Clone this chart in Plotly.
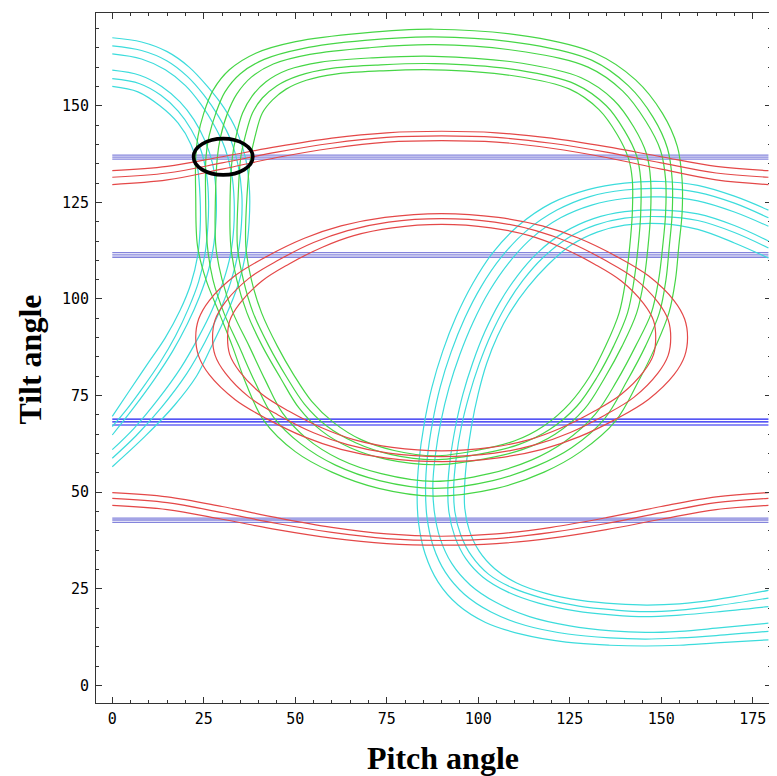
import plotly.graph_objects as go

# ---------------- axes ----------------
X_TICKS = [0, 25, 50, 75, 100, 125, 150, 175]
Y_TICKS = [0, 25, 50, 75, 100, 125, 150]
X_RANGE = [-4.45, 180.0]
Y_RANGE = [-4.55, 174.0]

# ---------------- blue horizontal lines ----------------
BLUE_X = [0, 179.3]
BLUE_BAND_1 = [137.2, 136.7, 136.2]
BLUE_BAND_2 = [112.0, 111.4, 110.8]
BLUE_BAND_3 = [68.9, 68.2, 67.4]
BLUE_BAND_4 = [43.3, 42.8, 42.2]

# ---------------- red upper / lower waves ----------------
RED_X = [0, 15, 30, 45, 60, 75, 90, 105, 120, 135, 150, 165, 179.3]
RED_UP_1 = [133.2, 134.3, 136.8, 139.4, 141.6, 143.0, 143.4, 143.0, 141.6, 139.4, 136.8, 134.3, 133.2]
RED_UP_2 = [131.5, 132.6, 135.2, 138.0, 140.3, 141.8, 142.2, 141.8, 140.3, 138.0, 135.2, 132.6, 131.5]
RED_UP_3 = [129.6, 130.8, 133.6, 136.6, 139.0, 140.6, 141.0, 140.6, 139.0, 136.6, 133.6, 130.8, 129.6]
RED_LOW_1 = [49.9, 48.8, 46.3, 43.4, 40.9, 39.2, 38.6, 39.2, 40.9, 43.4, 46.3, 48.8, 49.9]
RED_LOW_2 = [48.4, 47.3, 44.7, 41.9, 39.6, 38.0, 37.5, 38.0, 39.6, 41.9, 44.7, 47.3, 48.4]
RED_LOW_3 = [46.6, 45.5, 43.0, 40.3, 38.1, 36.7, 36.3, 36.7, 38.1, 40.3, 43.0, 45.5, 46.6]

# ---------------- red loops (x, y) ----------------
RED_LOOP_1 = [(90, 122.1), (105.5, 121.1), (117.5, 118.9), (127.5, 115.7), (138, 110.9),
              (146.5, 106), (153.5, 99.6), (156.4, 94.8), (157.2, 90), (156.4, 85.2),
              (153.5, 80.4), (146.5, 74), (138, 69.1), (127.5, 64.3), (117.5, 61.1),
              (105.5, 58.9), (90, 57.9), (74.5, 58.9), (62.5, 61.1), (52.5, 64.3), (42, 69.1),
              (33.5, 74), (26.5, 80.4), (23.6, 85.2), (22.8, 90), (23.6, 94.8), (26.5, 99.6),
              (33.5, 106), (42, 110.9), (52.5, 115.7), (62.5, 118.9), (74.5, 121.1), (90, 122.1)]
RED_LOOP_2 = [(90, 120.8), (104.5, 119.9), (115.7, 117.7), (125, 114.6), (134.7, 110.0),
              (142.6, 105.4), (149.1, 99.2), (151.9, 94.6), (152.6, 90), (151.9, 85.4),
              (149.1, 80.8), (142.6, 74.6), (134.7, 70.0), (125, 65.4), (115.7, 62.3),
              (104.5, 60.1), (90, 59.2), (75.5, 60.1), (64.3, 62.3), (55, 65.4), (45.3, 70.0),
              (37.4, 74.6), (30.9, 80.8), (28.1, 85.4), (27.4, 90), (28.1, 94.6), (30.9, 99.2),
              (37.4, 105.4), (45.3, 110), (55, 114.6), (64.3, 117.7), (75.5, 119.9), (90, 120.8)]
RED_LOOP_3 = [(90, 119.3), (103.5, 118.4), (114, 116.4), (122.6, 113.4), (131.8, 109.0),
              (139.1, 104.65), (145.2, 98.8), (147.9, 94.4), (148.5, 90), (147.9, 85.6),
              (145.2, 81.2), (139.1, 75.35), (131.8, 71.0), (122.6, 66.6), (114, 63.6),
              (103.5, 61.6), (90, 60.7), (76.5, 61.6), (66, 63.6), (57.4, 66.6), (48.2, 71.0),
              (40.9, 75.35), (34.8, 81.2), (32.1, 85.6), (31.5, 90), (32.1, 94.4), (34.8, 98.8),
              (40.9, 104.65), (48.2, 109.0), (57.4, 113.4), (66, 116.4), (76.5, 118.4), (90, 119.3)]

# ---------------- green loops (x, y) ----------------
GREEN_1 = [(88, 169.8), (114, 167.9), (132, 163.6), (143, 156.7), (150.3, 148.1), (154.4, 139.5),
           (155.7, 130.9), (155.7, 122.2), (154.8, 113.6), (153.9, 105), (152.1, 96.4), (148.5, 87.8),
           (143.5, 78.2), (137.5, 68.4), (128, 60.5), (118, 55.2), (105, 51.0), (88, 49.0),
           (72.8, 51.0), (60, 55.2), (50, 60.5), (41.5, 68.4), (36.5, 78.2), (32.8, 87.8),
           (29.2, 96.4), (25.6, 105), (23.3, 113.6), (22.8, 126.6), (22.8, 136.6), (23.4, 142),
           (25.0, 148.1), (27.6, 154.1), (32, 159.3), (39.2, 163.6), (50.1, 166.6), (68.3, 168.8),
           (88, 169.8)]
GREEN_2 = [(88, 167.8), (114, 165.9), (131, 161.8), (141, 155.2), (147.8, 147), (151.7, 139),
           (153, 130.9), (153, 122.2), (152.2, 113.6), (151.3, 105), (149.5, 96.4), (145.7, 87.8),
           (140.5, 78.5), (134.5, 69), (125.5, 61.5), (116, 56.8), (104, 53), (88, 51.0),
           (73, 53), (61, 57), (51.5, 62.5), (44, 69.5), (39, 78.5), (34.6, 87.8),
           (30.5, 96.4), (27.5, 105), (26, 113.6), (25.5, 126.6), (25.6, 136.6), (26.4, 142),
           (28.3, 148.1), (30.8, 153.6), (35, 158.3), (41.5, 162), (52, 164.8), (69, 166.9),
           (88, 167.8)]
GREEN_3 = [(88, 165.8), (113, 163.9), (130, 160), (139.5, 153.8), (145.8, 146), (149.8, 138.5),
           (151.2, 130.9), (151.2, 122.2), (150.4, 113.6), (149.3, 105), (147.3, 96.4), (143.0, 87.8),
           (138, 79), (132, 70.2), (123.5, 63), (114.5, 58.3), (103, 54.8), (88, 52.8),
           (73.5, 54.8), (62, 58.6), (53, 64), (46.5, 70.5), (41.8, 79), (37.4, 87.8),
           (33, 96.4), (30, 105), (28.3, 113.6), (28.2, 126.6), (28.7, 136.6), (29.6, 142),
           (31.5, 148.1), (34, 153), (38, 157.4), (44, 160.8), (54, 163.3), (70, 165),
           (88, 165.8)]
GREEN_4 = [(88, 162.8), (112, 161), (128, 157.3), (137, 151.5), (142.5, 144.5), (146, 137.5),
           (147.1, 130.9), (147.1, 122.2), (146.4, 113.6), (145.3, 105), (143.3, 96.4), (139.3, 87.8),
           (134.5, 79.5), (129, 71.5), (121, 65), (112, 61), (101, 58.5), (88, 57.1),
           (75, 58.5), (65, 61.5), (57, 66), (51, 71.8), (46, 79.5), (41.0, 87.8),
           (36.8, 96.4), (34, 105), (32.4, 113.6), (32.2, 126.6), (32.8, 136.6), (33.8, 142),
           (35.6, 148.1), (38.2, 152.5), (42, 156.2), (48, 159.3), (57, 161.3), (71, 162.4),
           (88, 162.8)]
GREEN_5 = [(88, 160.9), (111, 159.2), (126.5, 155.6), (135, 150), (140, 143.5), (143.3, 137),
           (144.4, 130.9), (144.4, 122.2), (143.7, 113.6), (142.6, 105), (140.8, 96.4), (137.0, 87.8),
           (132.5, 79.8), (127, 72.3), (119.5, 66.2), (111, 62.3), (100, 59.8), (88, 58.4),
           (76, 59.8), (66.5, 62.8), (58.5, 67.2), (52.5, 72.8), (47.5, 80), (42.8, 87.8),
           (38.5, 96.4), (35.8, 105), (34.2, 113.6), (34.4, 126.6), (35.1, 136.6), (36.3, 142),
           (38.3, 148.1), (41, 152), (45, 155.2), (51, 157.8), (59.5, 159.6), (72, 160.5),
           (88, 160.9)]
GREEN_6 = [(88, 159.3), (110, 157.7), (125, 154.3), (133, 149), (138, 142.5), (141, 136.5),
           (142.1, 130.9), (142.1, 122.2), (141.4, 113.6), (140.3, 105), (138.5, 96.4), (134.8, 87.8),
           (130.5, 80), (125, 73), (118, 67.2), (110, 63.3), (99.5, 60.8), (88, 59.4),
           (77, 60.8), (68, 63.6), (60.5, 68), (54.5, 73.5), (49.5, 80.5), (45.1, 87.8),
           (40.8, 96.4), (38, 105), (36.5, 113.6), (36.8, 126.6), (37.8, 136.6), (39, 142),
           (41, 148.1), (43.8, 151.5), (47.5, 154.3), (53, 156.6), (61, 158.2), (73, 159),
           (88, 159.3)]

# ---------------- cyan, upper-left arcs (x, y) ----------------
CYAN_UL_1 = [(0, 167.6), (8, 166.5), (15, 164), (21, 160), (26, 155), (30.5, 149.5), (34, 143.5),
             (36.4, 136.5), (37.5, 128), (37.4, 120), (36.5, 112), (34.5, 104), (31, 95.5),
             (27, 87.5), (23, 80), (17, 72.5), (9, 64.5), (0, 56.6)]
CYAN_UL_2 = [(0, 165.5), (8, 164.3), (15, 161.6), (20.5, 157.6), (25, 152.8), (29, 147.3),
             (32.3, 141.3), (34.4, 134.5), (35.4, 127), (35.3, 119.5), (34.4, 112), (32.4, 104.5),
             (29.2, 96.5), (25.3, 88.8), (20.3, 80.6), (13.5, 72), (6.5, 64.6), (0, 58.8)]
CYAN_UL_3 = [(0, 163.4), (8, 162.1), (14.5, 159.3), (20, 155.2), (24.2, 150.4), (27.8, 145),
             (30.8, 139), (32.6, 132.5), (33.3, 125.5), (33.2, 118.5), (32.3, 111.5), (30.3, 104.5),
             (27.3, 97.2), (23.5, 90), (18.8, 82.3), (12.5, 74), (6, 66.6), (0, 61.0)]
CYAN_UL_4 = [(0, 159.2), (7.5, 157.9), (13.5, 155), (18.5, 151), (22.3, 146.4), (25.3, 141),
             (27.4, 135), (28.3, 128.5), (28.4, 121.5), (27.8, 114.5), (26.3, 107.5), (23.8, 100.5),
             (20.5, 93.5), (16.5, 86.5), (11.5, 79.2), (5.8, 71.8), (0, 64.8)]
CYAN_UL_5 = [(0, 157.0), (7.5, 155.7), (13.3, 152.7), (18, 148.6), (21.6, 143.8), (24.3, 138.3),
             (25.8, 132), (26.3, 125.5), (26.1, 118.5), (25.3, 111.5), (23.6, 104.5), (20.8, 97.5),
             (17.3, 90.5), (13, 83.5), (8.3, 77), (4, 71.5), (0, 67.0)]
CYAN_UL_6 = [(0, 155.0), (7, 153.6), (13, 150), (18, 145.5), (21.5, 140), (23.3, 134), (24, 126),
             (24, 118), (23.3, 111), (21.5, 104), (18.5, 97), (14.5, 90), (9.5, 83), (4.5, 76),
             (0, 69.6)]

# ---------------- cyan, lower-right arcs (x, y) ----------------
CYAN_LR_1 = [(179.3, 123.0), (170, 126.6), (160, 129.4), (150, 130.4), (140, 130), (130, 128.3),
             (120, 124.8), (111, 119), (104, 112), (98.5, 104), (94, 95.5), (90.3, 86.5),
             (87.3, 77), (85.2, 67.5), (83.8, 58), (83.3, 50), (83.7, 42), (85.5, 34), (89, 26.8),
             (94.5, 20.8), (102, 16.3), (112, 13.2), (124, 11.2), (136, 10.4), (145.7, 10.2),
             (155, 10.4), (165, 11), (179.3, 11.8)]
CYAN_LR_2 = [(179.3, 121.0), (170, 124.8), (160, 127.6), (150, 128.6), (140, 128.2), (130.5, 126.5),
             (121.5, 123), (113, 117.5), (106.3, 110.8), (100.8, 103.2), (96.3, 95), (92.6, 86.3),
             (89.6, 77.2), (87.5, 68), (86.1, 59), (85.6, 51), (86, 43.5), (87.7, 36), (91, 29.3),
             (96.2, 23.6), (103.5, 19), (113, 15.5), (124.5, 13.3), (136, 12.3), (145.7, 12.0),
             (155, 12.3), (165, 12.9), (179.3, 14.0)]
CYAN_LR_3 = [(179.3, 118.8), (170, 122.5), (160, 125.4), (150, 126.4), (140, 126), (131, 124.3),
             (122.5, 121), (114.7, 115.8), (108.3, 109.3), (103, 102), (98.6, 94), (95, 85.7),
             (92, 77), (89.8, 68.3), (88.3, 59.7), (87.6, 52), (88, 45), (89.6, 38), (92.8, 31.5),
             (97.8, 26), (104.8, 21.5), (114, 17.8), (125, 15.4), (136.5, 14.1), (145.7, 13.7),
             (155, 14), (165, 14.8), (179.3, 16.1)]
CYAN_LR_4 = [(179.3, 115.0), (170, 119), (160, 122), (150, 123), (140, 122.6), (131.5, 120.8),
             (123.5, 117.3), (116.5, 112.2), (110.7, 106), (105.8, 99), (101.8, 91.5), (98.5, 83.5),
             (95.8, 75.3), (93.8, 67), (92.4, 59), (91.7, 51.5), (92, 44.8), (93.6, 38.5),
             (96.6, 32.8), (101.3, 28), (108, 24.2), (116.5, 21.3), (126.5, 19.3), (137, 18.2),
             (145.7, 17.8), (155, 18.2), (165, 19), (179.3, 20.4)]
CYAN_LR_5 = [(179.3, 113.2), (170, 117.2), (160, 120.3), (150, 121.3), (140, 120.9), (132, 119.1),
             (124.5, 115.8), (117.8, 110.8), (112.2, 104.8), (107.4, 98), (103.5, 90.8), (100.2, 83),
             (97.5, 75), (95.4, 67), (94, 59), (93.3, 51.6), (93.6, 45), (95.2, 39), (98.2, 33.5),
             (102.8, 28.8), (109.2, 25.3), (117.5, 22.6), (127.5, 20.5), (137.5, 19.5),
             (145.7, 19.1), (155, 19.5), (165, 20.6), (179.3, 22.6)]
CYAN_LR_6 = [(179.3, 110.6), (170, 114.5), (160, 118), (150, 119.5), (140, 119.1), (132.5, 117.3),
             (125.5, 114), (119, 108.8), (113.5, 103), (109, 97), (105.3, 90.5), (102.3, 83.3),
             (100, 75.5), (98.2, 67.3), (97, 59.5), (96.3, 52), (96.3, 46), (97.5, 40.3),
             (100.2, 34.8), (104.5, 30.2), (110.5, 26.5), (118.5, 23.8), (128, 22), (138, 21.1),
             (146, 20.8), (155, 21.1), (165, 22.2), (179.3, 24.6)]

# ---------------- highlight ellipse ----------------
ELLIPSE_CENTER = (30.3, 136.8)
ELLIPSE_RADII = (8.1, 4.7)

# ---------------- styles ----------------
CYAN = "#3cdcdc"
GREEN = "#46d646"
RED = "#e44848"
BLUE_LIGHT = "#8484dc"
BLUE_DARK = "#1c1cf0"

fig = go.Figure()


def add_curve(pts, color, width=1.2):
    fig.add_trace(go.Scatter(
        x=[p[0] for p in pts], y=[p[1] for p in pts], mode="lines",
        line=dict(color=color, width=width, shape="spline", smoothing=1.0),
        hoverinfo="skip", showlegend=False))


def add_wave(xs, ys, color, width=1.2):
    fig.add_trace(go.Scatter(
        x=xs, y=ys, mode="lines",
        line=dict(color=color, width=width, shape="spline", smoothing=1.0),
        hoverinfo="skip", showlegend=False))


for band, col, w in [(BLUE_BAND_1, BLUE_LIGHT, 1.3), (BLUE_BAND_2, BLUE_LIGHT, 1.3),
                     (BLUE_BAND_3, BLUE_DARK, 1.1), (BLUE_BAND_4, BLUE_LIGHT, 1.3)]:
    for v in band:
        fig.add_trace(go.Scatter(x=BLUE_X, y=[v, v], mode="lines",
                                 line=dict(color=col, width=w),
                                 hoverinfo="skip", showlegend=False))

for c in [CYAN_UL_1, CYAN_UL_2, CYAN_UL_3, CYAN_UL_4, CYAN_UL_5, CYAN_UL_6,
          CYAN_LR_1, CYAN_LR_2, CYAN_LR_3, CYAN_LR_4, CYAN_LR_5, CYAN_LR_6]:
    add_curve(c, CYAN)

for g in [GREEN_1, GREEN_2, GREEN_3, GREEN_4, GREEN_5, GREEN_6]:
    add_curve(g, GREEN)

for r in [RED_LOOP_1, RED_LOOP_2, RED_LOOP_3]:
    add_curve(r, RED)

for ys in [RED_UP_1, RED_UP_2, RED_UP_3, RED_LOW_1, RED_LOW_2, RED_LOW_3]:
    add_wave(RED_X, ys, RED)

cx, cy = ELLIPSE_CENTER
rx, ry = ELLIPSE_RADII
fig.add_shape(type="circle", xref="x", yref="y",
              x0=cx - rx, x1=cx + rx, y0=cy - ry, y1=cy + ry,
              line=dict(color="black", width=3.6))

tick_font = dict(family="DejaVu Sans Mono", size=15, color="black")
axis_common = dict(
    automargin=False,
    showgrid=False, zeroline=False, showline=True, linecolor="#333333", linewidth=1,
    mirror="ticks", ticks="inside", ticklen=6, tickwidth=1, tickcolor="#333333",
    tickfont=tick_font,
    minor=dict(ticks="inside", ticklen=3, tickwidth=1, tickcolor="#333333", dtick=5, tick0=0,
               showgrid=False),
)

fig.update_xaxes(range=X_RANGE, tickmode="array", tickvals=X_TICKS,
                 ticktext=[str(v) for v in X_TICKS], ticklabelstandoff=2, **axis_common)
fig.update_yaxes(range=Y_RANGE, tickmode="array", tickvals=Y_TICKS,
                 ticktext=[str(v) for v in Y_TICKS], ticklabelstandoff=3, **axis_common)

title_font = dict(family="Liberation Serif", size=32, color="black")
fig.add_annotation(text="<b>Pitch angle</b>", xref="paper", yref="paper", x=0.514, y=-0.079,
                   xanchor="center", yanchor="middle", showarrow=False, font=title_font)
fig.add_annotation(text="<b>Tilt angle</b>", xref="paper", yref="paper", x=-0.097, y=0.497,
                   xanchor="center", yanchor="middle", showarrow=False, textangle=-90,
                   font=title_font)

# the page body adds an 8px offset, so the figure is sized to the remaining window area
fig.update_layout(template="none", width=769, height=768,
                  margin=dict(l=88, r=6, t=5, b=73, autoexpand=False),
                  plot_bgcolor="white", paper_bgcolor="white", showlegend=False)

fig.write_html("out.html")
